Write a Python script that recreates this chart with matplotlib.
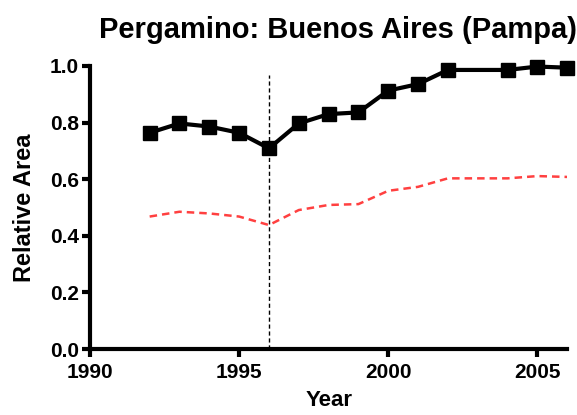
import matplotlib
matplotlib.use('Agg')
import matplotlib.pyplot as plt

years = [1992, 1993, 1994, 1995, 1996, 1997, 1998, 1999, 2000, 2001, 2002, 2004, 2005, 2006]
area = [0.764, 0.797, 0.786, 0.764, 0.709, 0.797, 0.830, 0.836, 0.913, 0.936, 0.986, 0.986, 0.998, 0.994]
area_low = [0.468, 0.485, 0.479, 0.468, 0.438, 0.491, 0.509, 0.512, 0.559, 0.573, 0.603, 0.603, 0.611, 0.608]
event_year = 1996

plt.rcParams['font.family'] = ['Liberation Sans', 'DejaVu Sans']
plt.rcParams['font.weight'] = 'bold'

fig = plt.figure(figsize=(5.77, 4.15), dpi=100)
ax = fig.add_axes([0.156, 0.159, 0.827, 0.682])

ax.plot(years, area, color='black', lw=3, marker='s', markersize=9.5, zorder=3, clip_on=False)
ax.plot(years, area_low, color='#ff4040', lw=1.8, linestyle=(0, (3, 2)), zorder=2)
ax.plot([event_year, event_year], [0, 0.968], color='black', lw=1, linestyle=(0, (3, 2)), zorder=1)

ax.set_xlim(1990, 2006)
ax.set_ylim(0, 1.0)
ax.set_xticks([1990, 1995, 2000, 2005])
ax.set_yticks([0.0, 0.2, 0.4, 0.6, 0.8, 1.0])
ax.set_yticklabels(['0.0', '0.2', '0.4', '0.6', '0.8', '1.0'])

for side in ['top', 'right']:
    ax.spines[side].set_visible(False)
for side in ['left', 'bottom']:
    ax.spines[side].set_linewidth(3)
ax.tick_params(width=3, length=6, labelsize=15)
ax.tick_params(axis='x', pad=4)
ax.tick_params(axis='y', pad=2)
for lab in ax.get_xticklabels() + ax.get_yticklabels():
    lab.set_fontweight('bold')

ax.set_xlabel('Year', fontsize=16, fontweight='bold', labelpad=6)
ax.set_ylabel('Relative Area', fontsize=17, fontweight='bold', labelpad=10)
ax.set_title('Pergamino: Buenos Aires (Pampa)', fontsize=21, fontweight='bold', x=0.52, pad=20)

fig.savefig('out.png', dpi=100)
